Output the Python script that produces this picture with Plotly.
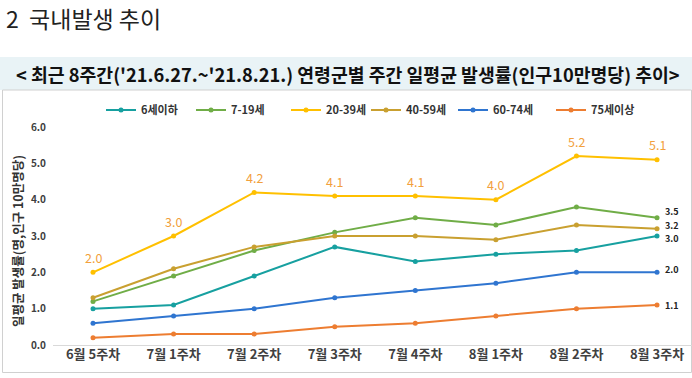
import plotly.graph_objects as go

categories = ["6월 5주차", "7월 1주차", "7월 2주차", "7월 3주차", "7월 4주차", "8월 1주차", "8월 2주차", "8월 3주차"]
series_names = ["6세이하", "7-19세", "20-39세", "40-59세", "60-74세", "75세이상"]
age_0_6 = [1.0, 1.1, 1.9, 2.7, 2.3, 2.5, 2.6, 3.0]
age_7_19 = [1.2, 1.9, 2.6, 3.1, 3.5, 3.3, 3.8, 3.5]
age_20_39 = [2.0, 3.0, 4.2, 4.1, 4.1, 4.0, 5.2, 5.1]
age_40_59 = [1.3, 2.1, 2.7, 3.0, 3.0, 2.9, 3.3, 3.2]
age_60_74 = [0.6, 0.8, 1.0, 1.3, 1.5, 1.7, 2.0, 2.0]
age_75_up = [0.2, 0.3, 0.3, 0.5, 0.6, 0.8, 1.0, 1.1]
y_ticks = [0, 1, 2, 3, 4, 5, 6]
y_tick_labels = ["0.0", "1.0", "2.0", "3.0", "4.0", "5.0", "6.0"]

all_series = [age_0_6, age_7_19, age_20_39, age_40_59, age_60_74, age_75_up]
colors = ["#17A0A0", "#70AD47", "#FFC000", "#C9A030", "#2F75D0", "#ED7D31"]
# legend entry text start positions (page px)
legend_text_px = [138, 228, 323, 403, 490, 588]

W, H = 692, 378
ML, MR, MT, MB = 53, 0, 127, 33
PW, PH = W - ML - MR, H - MT - MB

def px2x(px):
    return (px - ML) / PW

def px2y(py):
    return (H - MB - py) / PH

FONT = "Noto Sans CJK KR"

fig = go.Figure()
legend_layouts = {}
for i, (name, vals, col) in enumerate(zip(series_names, all_series, colors)):
    lname = "legend" if i == 0 else f"legend{i + 1}"
    fig.add_trace(go.Scatter(
        x=categories, y=vals, name=name, mode="lines+markers",
        line=dict(color=col, width=2),
        marker=dict(color=col, size=5),
        legend=lname,
    ))
    legend_layouts[lname] = dict(
        orientation="h", x=px2x(legend_text_px[i] - 37), y=px2y(110),
        xanchor="left", yanchor="middle",
        font=dict(family=FONT, size=11, color="#333333", weight="bold"),
        itemwidth=30, bgcolor="rgba(0,0,0,0)",
    )

annotations = []
# labels above 20-39 series
for c, v in zip(categories, age_20_39):
    annotations.append(dict(x=c, y=v, text=f"{v:.1f}", showarrow=False, yshift=15,
                            font=dict(family=FONT, size=12.5, color="#F2A03C")))
# end labels for other series
end_shift = {"6세이하": -2, "7-19세": 6, "40-59세": 3, "60-74세": 3, "75세이상": 0}
for name, vals in zip(series_names, all_series):
    if name == "20-39세":
        continue
    annotations.append(dict(x=categories[-1], y=vals[-1], text=f"{vals[-1]:.1f}", showarrow=False,
                            xanchor="left", xshift=6, yshift=end_shift[name],
                            font=dict(family=FONT, size=9, color="#222222", weight="bold")))

# titles
annotations.append(dict(xref="paper", yref="paper", x=px2x(4), y=px2y(18), xanchor="left", yanchor="middle",
                        text="2  국내발생 추이", showarrow=False,
                        font=dict(family=FONT, size=23, color="#222222")))
annotations.append(dict(xref="paper", yref="paper", x=px2x(14), y=px2y(74), xanchor="left", yanchor="middle",
                        text="< 최근 8주간('21.6.27.~'21.8.21.) 연령군별 주간 일평균 발생률(인구10만명당) 추이>",
                        showarrow=False,
                        font=dict(family=FONT, size=18.3, color="#111111", weight="bold")))
annotations.append(dict(xref="paper", yref="paper", x=px2x(17), y=px2y(241), xanchor="center", yanchor="middle",
                        text="일평균 발생률(명,인구 10만명당)", textangle=-90, showarrow=False,
                        font=dict(family=FONT, size=12.5, color="#333333", weight="bold")))

shapes = [
    dict(type="rect", xref="paper", yref="paper", x0=px2x(0), x1=px2x(692), y0=px2y(90), y1=px2y(57),
         fillcolor="#E9F3F6", line=dict(width=0), layer="below"),
    dict(type="rect", xref="paper", yref="paper", x0=px2x(2.5), x1=px2x(691.5), y0=px2y(372.5), y1=px2y(90),
         fillcolor="rgba(0,0,0,0)", line=dict(color="#D0D0D0", width=1), layer="below"),
]

fig.update_layout(
    width=W, height=H,
    margin=dict(l=ML, r=MR, t=MT, b=MB),
    paper_bgcolor="white", plot_bgcolor="white",
    font=dict(family=FONT),
    showlegend=True,
    annotations=annotations,
    shapes=shapes,
    xaxis=dict(type="category", range=[-0.4965, 7.434], showgrid=False, zeroline=False,
               showline=False, ticks="",
               tickfont=dict(family=FONT, size=13, color="#404040", weight="bold")),
    yaxis=dict(range=[0, 6], tickvals=y_ticks, ticktext=y_tick_labels, showgrid=False,
               zeroline=True, zerolinecolor="#D9D9D9", zerolinewidth=1, showline=False, ticks="",
               ticklabelstandoff=6,
               tickfont=dict(family=FONT, size=10, color="#404040", weight="bold")),
    **legend_layouts,
)

fig.write_html("out.html", config={"displayModeBar": False},
               post_script="document.body.style.margin='0';")
